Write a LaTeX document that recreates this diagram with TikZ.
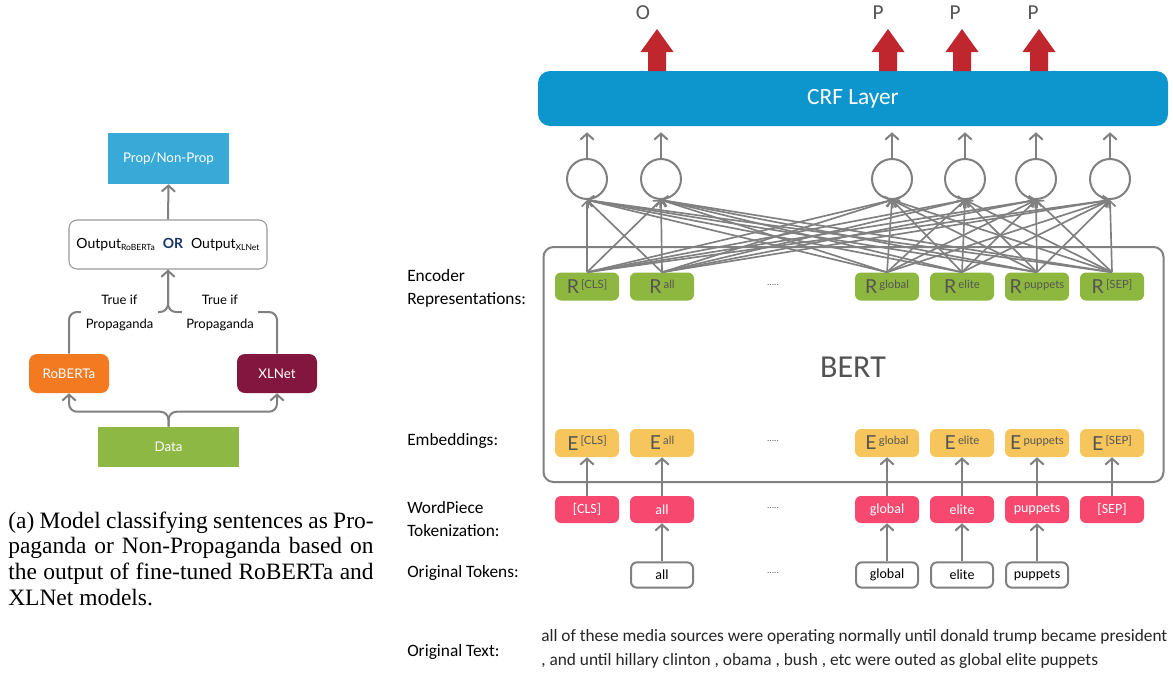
\documentclass[tikz,border=0pt]{standalone}
\usepackage{fontspec}
\setmainfont{Lato}
\newfontfamily\carl{Carlito}
\newfontfamily\tnr{Liberation Serif}
\usetikzlibrary{arrows.meta}
\definecolor{propblue}{HTML}{39AAD7}
\definecolor{roborange}{HTML}{F47A22}
\definecolor{xlmaroon}{HTML}{83163E}
\definecolor{datagreen}{HTML}{8CB843}
\definecolor{navyc}{HTML}{1B3668}
\definecolor{crfblue}{HTML}{0D96CE}
\definecolor{rgreen}{HTML}{8DB73E}
\definecolor{eyellow}{HTML}{F6C55C}
\definecolor{wppink}{HTML}{F7486F}
\definecolor{redarr}{HTML}{C0262D}
\definecolor{lgray}{HTML}{808080}
\definecolor{txtgray}{HTML}{555555}
\newcommand\mytok[2]{{\fontsize{14.5}{15}\selectfont #1}\,\raisebox{4pt}{\fontsize{8.5}{9}\selectfont #2}}
\newcommand\capline[1]{\makebox[274pt][s]{#1}}
\tikzset{
  gline/.style={draw=lgray, line width=1.5pt},
  arr/.style={gline, -{Straight Barb[length=4.5pt,width=10pt]}},
  arrthin/.style={draw=lgray, line width=1.25pt, -{Straight Barb[length=4pt,width=8pt]}},
  lbox/.style={text=white, font=\fontsize{10}{12}\selectfont, inner sep=0pt},
  lbl/.style={anchor=west, align=left, inner sep=0pt, font=\carl\fontsize{13}{17.25}\selectfont, text=black},
  tokbox/.style={minimum width=48pt, minimum height=21pt, rounded corners=4.5pt, inner sep=0pt, text=txtgray},
  rbox/.style={tokbox, fill=rgreen},
  ebox/.style={tokbox, fill=eyellow},
  wbox/.style={tokbox, fill=wppink, text=white, font=\carl\fontsize{10.5}{12}\selectfont, minimum height=20.25pt},
  obox/.style={tokbox, fill=white, draw=lgray, line width=1.5pt, text=black, font=\carl\fontsize{10.5}{12}\selectfont, minimum width=46.5pt, minimum height=19pt},
  circ/.style={circle, draw=lgray, line width=1.5pt, minimum size=30pt, inner sep=0pt},
  dots/.style={text=txtgray, font=\carl\fontsize{7}{8}\selectfont},
  outl/.style={text=txtgray, font=\carl\fontsize{16}{17}\selectfont},
}
\begin{document}
\begin{tikzpicture}[x=0.75pt,y=-0.75pt]
\useasboundingbox (0,0) rectangle (1173,675);
\fill[white] (0,0) rectangle (1173,675);

% ---------------- left diagram ----------------
\node[lbox, fill=propblue, minimum width=90.75pt, minimum height=38.25pt] (prop) at (168.5,158.5) {Prop/Non-Prop};
\node[draw=lgray!80, line width=0.8pt, rounded corners=6pt, minimum width=148.5pt, minimum height=36.75pt, inner sep=0pt, font=\fontsize{10.5}{12}\selectfont] (out) at (168,244.5)
  {Output{\fontsize{6.4}{7}\selectfont\raisebox{-2pt}{RoBERTa}}\hspace{6pt}{\color{navyc}\bfseries OR}\hspace{6pt}Output{\fontsize{6.4}{7}\selectfont\raisebox{-2pt}{XLNet}}};
\node[lbox, fill=roborange, rounded corners=6pt, minimum width=60pt, minimum height=29.25pt] (rob) at (69,373.5) {RoBERTa};
\node[lbox, fill=xlmaroon, rounded corners=6pt, minimum width=60pt, minimum height=29.25pt] (xln) at (277,373.5) {XLNet};
\node[lbox, fill=datagreen, minimum width=105.75pt, minimum height=30pt] (data) at (168.5,447) {Data};

\draw[arr] (out.north) -- (prop.south);
\draw[arr, rounded corners=6pt] (data.north) -- ++(0,-15) -| (rob.south);
\draw[arr, rounded corners=6pt] (data.north) -- ++(0,-15) -| (xln.south);
\coordinate (mid) at (168,312);
\draw[arr, rounded corners=6pt] (rob.north) |- (mid) -- (out.south);
\draw[gline, rounded corners=6pt] (xln.north) |- (mid) -- (out.south);
\node[fill=white, align=center, inner xsep=3.5pt, inner ysep=1pt, font=\fontsize{9.75}{18}\selectfont] (t1) at (119.5,313) {True if\\Propaganda};
\node[fill=white, align=center, inner xsep=3.5pt, inner ysep=1pt, font=\fontsize{9.75}{18}\selectfont] (t2) at (220,313) {True if\\Propaganda};

\node[anchor=west, align=left, inner sep=0pt, font=\tnr\fontsize{17.6}{19.3}\selectfont] (cap) at (8,558.5)
 {\capline{(a) Model classifying sentences as Pro-}\\
  \capline{paganda or Non-Propaganda based on}\\
  \capline{the output of fine-tuned RoBERTa and}\\
  XLNet models.};

% ---------------- right diagram ----------------
\node[lbl] (l1) at (407,288.5) {Encoder\\Representations:};
\node[lbl] (l2) at (407,441) {Embeddings:};
\node[lbl] (l3) at (407,519.5) {WordPiece\\Tokenization:};
\node[lbl] (l4) at (407,573) {Original Tokens:};
\node[lbl] (l5) at (407,652) {Original Text:};

\node[fill=crfblue, rounded corners=9pt, minimum width=472.5pt, minimum height=41.25pt, text=white, font=\carl\fontsize{17.5}{18}\selectfont] (crf) at (853,98.5) {CRF Layer};

\node[draw=lgray, line width=1.5pt, rounded corners=7.5pt, minimum width=465pt, minimum height=176.25pt] (bert) at (853.5,364.5) {};
\node[text=darkgray!90, font=\carl\fontsize{24}{26}\selectfont] (berttxt) at (853,367) {BERT};

% red output arrows
\foreach \x in {657,888,962,1039} {
  \fill[redarr] (\x-9,71) -- (\x-9,52) -- (\x-16.5,52) -- (\x,29) -- (\x+16.5,52) -- (\x+9,52) -- (\x+9,71) -- cycle;
}
\node[outl] (oO) at (643,13) {O};
\node[outl] (oP1) at (878,13) {P};
\node[outl] (oP2) at (955,13) {P};
\node[outl] (oP3) at (1033,13) {P};

% circles
\foreach \i/\x in {1/587,2/661,3/892,4/965,5/1036,6/1110} {
  \node[circ] (c\i) at (\x,179) {};
  \draw[arr, shorten >=4.5pt] (c\i.north) -- (c\i.north |- crf.south);
}

% token columns
\foreach \n/\x/\s in {cls/587/{[CLS]}, all/662/all, glo/887/global, eli/962/elite, pup/1037/puppets, sep/1112/{[SEP]}} {
  \node[rbox] (r\n) at (\x,286.5) {\mytok{R}{\s}};
  \node[ebox] (e\n) at (\x,443) {\mytok{E}{\s}};
  \node[wbox] (w\n) at (\x,509.5) {\s};
  \draw[arr] (w\n.north) -- (e\n.south);
}
\foreach \n in {cls,all,glo,eli,pup,sep} {
  \foreach \i in {1,...,6} {
    \draw[arrthin] (r\n.north) -- (c\i.south);
  }
}
\foreach \n/\x/\s in {all/662/all, glo/887/global, eli/962/elite, pup/1037/puppets} {
  \node[obox] (o\n) at (\x,575) {\s};
  \draw[arr] (o\n.north) -- (w\n.south);
}
\node[dots] (d1) at (773,285) {.....};
\node[dots] (d2) at (773,441) {.....};
\node[dots] (d3) at (773,508) {.....};
\node[dots] (d4) at (773,573) {.....};

\node[anchor=west, align=left, inner sep=0pt, text=black!85, font=\carl\fontsize{13}{18}\selectfont] (otext) at (541,649)
 {all of these media sources were operating normally until donald trump became president\\
  , and until hillary clinton , obama , bush , etc were outed as global elite puppets};
\end{tikzpicture}
\end{document}
